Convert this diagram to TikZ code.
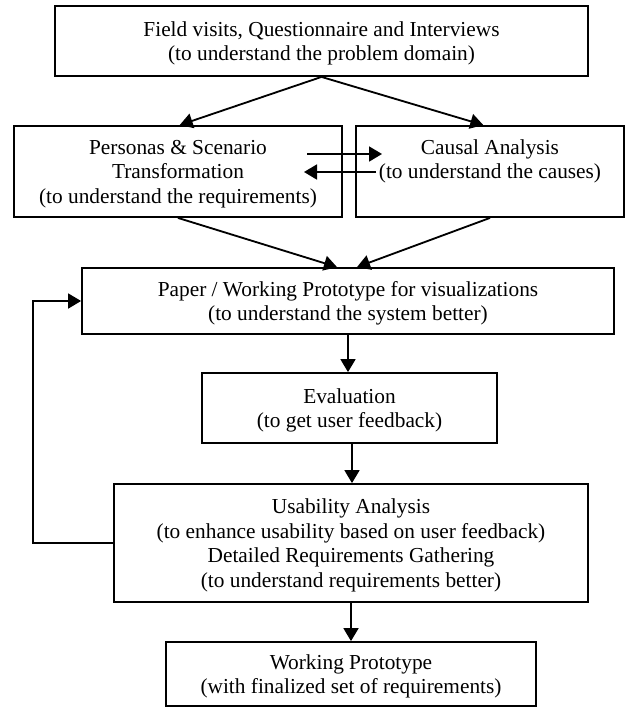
\documentclass[tikz,border=0pt]{standalone}
\usepackage{fontspec}
\setmainfont{Liberation Serif}
\usetikzlibrary{arrows.meta}

\begin{document}
\begin{tikzpicture}[
  x=0.6pt, y=-0.6pt,
  font=\fontsize{12.8}{14.7}\selectfont,
  stage/.style={draw=black, line width=1.1pt, align=center, inner sep=0pt, text depth=-2.6pt},
  flow/.style={-{Triangle[length=7.8pt, width=9pt]}, line width=1.1pt}
]
\useasboundingbox (0,0) rectangle (628,708);

\node[stage, minimum width=319.8pt, minimum height=42pt] (field) at (321.5,41)
  {Field visits, Questionnaire and Interviews\\(to understand the problem domain)};
\node[stage, minimum width=196.8pt, minimum height=54.6pt] (persona) at (178,171.5)
  {Personas \& Scenario\\Transformation\\(to understand the requirements)};
\node[stage, minimum width=160.8pt, minimum height=54.6pt] (causal) at (490,171.5)
  {Causal Analysis\\(to understand the causes)\\\mbox{}};
\node[stage, minimum width=319.2pt, minimum height=39.6pt] (paper) at (348,301)
  {Paper / Working Prototype for visualizations\\(to understand the system better)};
\node[stage, minimum width=177pt, minimum height=42pt] (evaluation) at (349.5,408)
  {Evaluation\\(to get user feedback)};
\node[stage, minimum width=284.4pt, minimum height=70.8pt] (usability) at (351,543)
  {Usability Analysis\\(to enhance usability based on user feedback)\\Detailed Requirements Gathering\\(to understand requirements better)};
\node[stage, minimum width=222pt, minimum height=38.4pt] (final) at (351,674)
  {Working Prototype\\(with finalized set of requirements)};

\coordinate (toCausalA) at (307,154);
\coordinate (toCausalB) at (382,154);
\coordinate (toPersonaA) at (376,172);
\coordinate (toPersonaB) at (304,172);

\draw[flow] (field.south) -- ([xshift=1pt]persona.north);
\draw[flow] (field.south) -- ([xshift=-4pt]causal.north);
\draw[flow] (toCausalA) -- (toCausalB);
\draw[flow] (toPersonaA) -- (toPersonaB);
\draw[flow] (persona.south) -- ([xshift=-6.6pt]paper.north);
\draw[flow] (causal.south) -- ([xshift=5.4pt]paper.north);
\draw[flow] (paper.south) -- (paper.south |- evaluation.north);
\draw[flow] ([xshift=1.5pt]evaluation.south) -- ([xshift=1.5pt]evaluation.south |- usability.north);
\draw[flow] (usability.south) -- (final.north);
\draw[flow] (usability.west) -- ++(-80,0) |- (paper.west);
\end{tikzpicture}
\end{document}
